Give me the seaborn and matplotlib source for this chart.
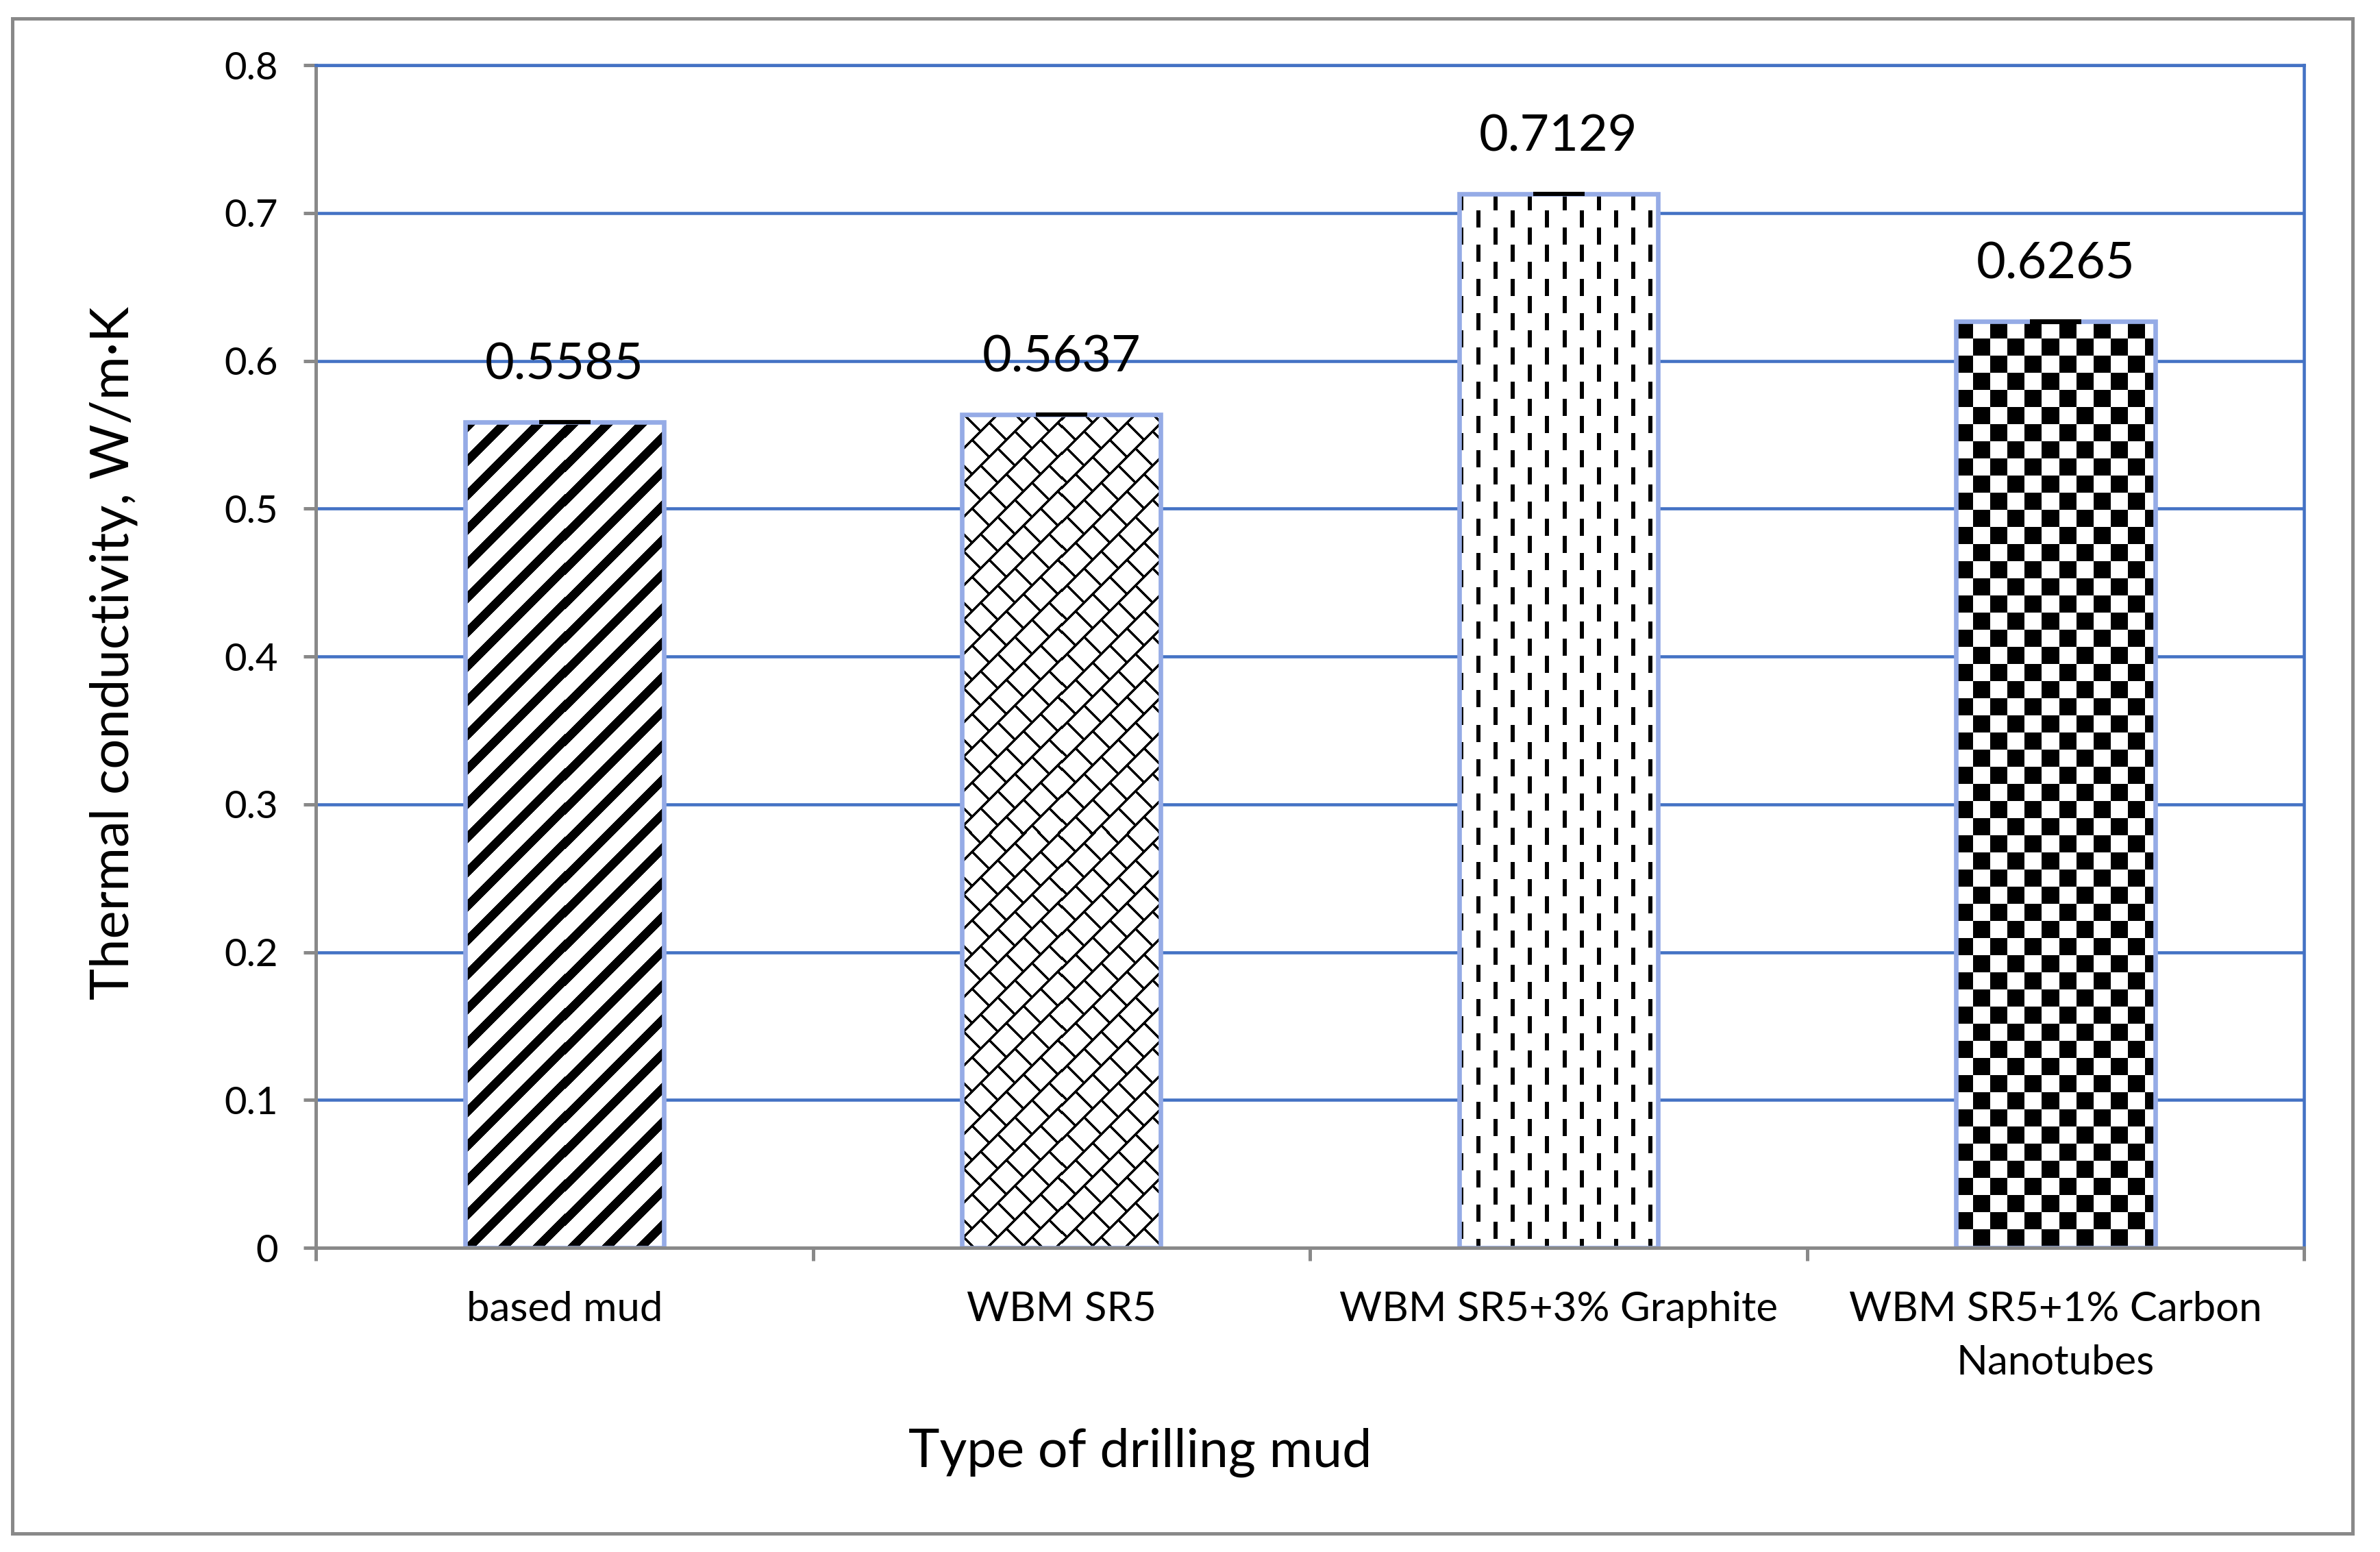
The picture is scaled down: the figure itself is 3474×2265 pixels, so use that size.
import numpy as np
import matplotlib
matplotlib.use("Agg")
import matplotlib.pyplot as plt
import seaborn as sns
from matplotlib.patches import Rectangle

# data
mud_types = ["based mud", "WBM SR5", "WBM SR5+3% Graphite",
             "WBM SR5+1% Carbon\nNanotubes"]
conductivity = [0.5585, 0.5637, 0.7129, 0.6265]
errors = [0.0005, 0.0005, 0.0005, 0.0005]
bar_labels = ["0.5585", "0.5637", "0.7129", "0.6265"]
y_ticks = [0, 0.1, 0.2, 0.3, 0.4, 0.5, 0.6, 0.7, 0.8]
y_tick_labels = ["0", "0.1", "0.2", "0.3", "0.4", "0.5", "0.6", "0.7", "0.8"]
fill_patterns = ["stripes", "bricks", "dashes", "checks"]

GRID_BLUE = "#4472C4"
BAR_EDGE = "#95ABE6"
AXIS_GRAY = "#898989"


def texture(kind, w, h):
    # black/white fill pattern, one cell per output pixel
    yy, xx = np.mgrid[0:h, 0:w]
    if kind == "stripes":
        m = (xx + yy) % 50 < 18
    elif kind == "bricks":
        u = xx + yy
        v = xx - yy
        band = (u // 50) % 2
        m = (u % 50 < 5) | ((v + 25 * band) % 50 < 5)
    elif kind == "dashes":
        m = ((xx % 50 < 6) & (yy % 50 < 25)) | \
            (((xx - 25) % 50 < 6) & ((yy - 25) % 50 < 25))
    else:
        m = ((xx // 25) + (yy // 25)) % 2 == 0
    return m.astype(float)


sns.set_theme(style="white")
plt.rcParams["font.family"] = ["Lato", "DejaVu Sans"]

fig = plt.figure(figsize=(11.58, 7.55), dpi=300)
ax = fig.add_axes([0.1327, 0.196, 0.8354, 0.762])

sns.barplot(x=mud_types, y=conductivity, color="white", width=0.4,
            edgecolor=BAR_EDGE, linewidth=1.6, errorbar=None, ax=ax, zorder=3)
ax.set_xlim(-0.5, 3.5)
ax.set_ylim(0, 0.8)

bars = list(ax.patches)
for bar, kind in zip(bars, fill_patterns):
    bar.set_facecolor("none")
    bb = bar.get_window_extent()
    w, h = int(round(bb.width)), int(round(bb.height))
    x0 = bar.get_x()
    ax.imshow(texture(kind, w, h), cmap="binary", vmin=0, vmax=1,
              interpolation="nearest", aspect="auto", origin="upper",
              extent=(x0, x0 + bar.get_width(), 0, bar.get_height()),
              zorder=2)

ax.errorbar(x=np.arange(len(conductivity)), y=conductivity, yerr=errors,
            fmt="none", ecolor="black", elinewidth=1, capsize=9,
            capthick=1.0, zorder=5)

for i, (v, lab) in enumerate(zip(conductivity, bar_labels)):
    ax.annotate(lab, (i, v), xytext=(0, 20), textcoords="offset points",
                ha="center", va="center", fontsize=17.7, color="black")

ax.set_xlim(-0.5, 3.5)
ax.set_ylim(0, 0.8)
ax.set_yticks(y_ticks)
ax.set_yticklabels(y_tick_labels)
ax.set_xticks(range(len(mud_types)))
ax.set_xticklabels(mud_types, linespacing=1.55)
ax.set_xticks(np.arange(-0.5, len(mud_types), 1.0), minor=True)

ax.tick_params(axis="y", which="major", direction="out", length=4.3,
               width=1.2, color=AXIS_GRAY, pad=9, labelsize=13.5,
               labelcolor="black", left=True)
ax.tick_params(axis="x", which="major", length=0, pad=15, labelsize=14.4,
               labelcolor="black")
ax.tick_params(axis="x", which="minor", direction="out", length=4.5,
               width=1.2, color=AXIS_GRAY, bottom=True)

ax.yaxis.grid(True, color=GRID_BLUE, linewidth=1.1)
ax.xaxis.grid(False)
ax.set_axisbelow(True)

for side in ["left", "bottom"]:
    ax.spines[side].set_color(AXIS_GRAY)
    ax.spines[side].set_linewidth(1.2)
for side in ["top", "right"]:
    ax.spines[side].set_color(GRID_BLUE)
    ax.spines[side].set_linewidth(1.1)
for s in ax.spines.values():
    s.set_zorder(4)

ax.set_ylabel("Thermal conductivity, W/m\u00b7K", fontsize=18.7, color="black",
              va="center", ha="center")
ax.yaxis.set_label_coords(-0.1017, 0.503)
ax.set_xlabel("Type of drilling mud", fontsize=18.5, color="black",
              va="center", ha="center")
ax.xaxis.set_label_coords(0.4146, -0.173)

# outer chart-area border
fig.patches.append(Rectangle((0.0052, 0.012), 0.9833, 0.976, fill=False,
                             edgecolor=AXIS_GRAY, linewidth=1.2,
                             transform=fig.transFigure, figure=fig))

fig.savefig("out.png", dpi=300, facecolor="white")
